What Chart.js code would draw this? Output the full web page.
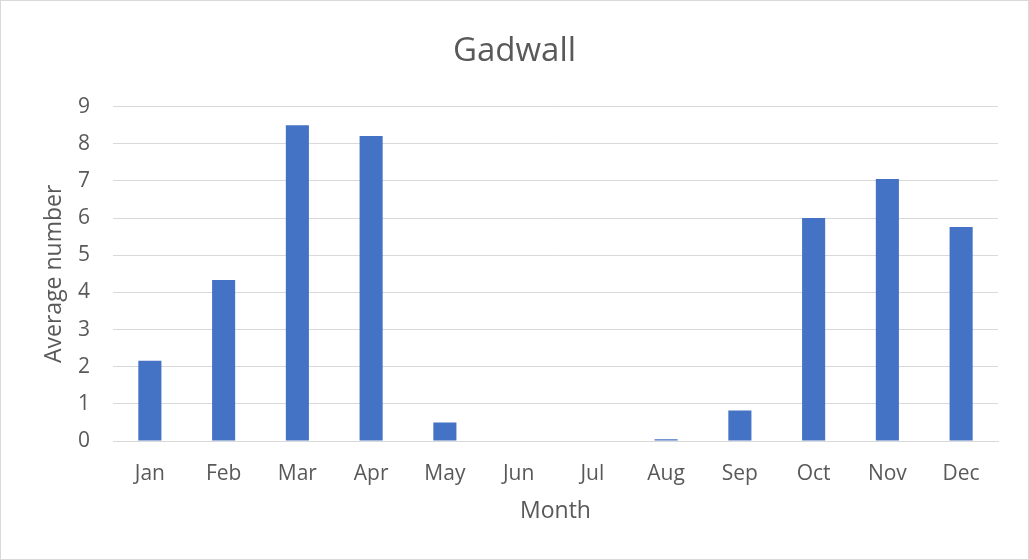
<!DOCTYPE html>
<html>
<head>
<meta charset="utf-8">
<script src="https://cdn.jsdelivr.net/npm/chart.js@4"></script>
<style>
  html, body { margin: 0; padding: 0; background: #fff; }
  #wrap { width: 1029px; height: 560px; }
</style>
</head>
<body>
<div id="wrap"><canvas id="chart" width="1029" height="560"></canvas></div>
<script>
const months = ['Jan', 'Feb', 'Mar', 'Apr', 'May', 'Jun', 'Jul', 'Aug', 'Sep', 'Oct', 'Nov', 'Dec'];
const avgNumber = [2.16, 4.33, 8.5, 8.21, 0.5, 0, 0, 0.05, 0.82, 6.0, 7.05, 5.76];
const yTicks = [0, 1, 2, 3, 4, 5, 6, 7, 8, 9];

const textColor = '#595959';
const gridColor = '#D9D9D9';
const fontFamily = '"Open Sans", "Liberation Sans", sans-serif';

// light frame round the whole chart, like the Excel chart border
const frame = {
  id: 'frame',
  beforeDraw(chart) {
    const c = chart.ctx;
    c.save();
    c.fillStyle = '#fff';
    c.fillRect(0, 0, chart.width, chart.height);
    c.strokeStyle = gridColor;
    c.lineWidth = 1;
    c.strokeRect(0.5, 0.5, chart.width - 1, chart.height - 1);
    c.restore();
  }
};

const ctx = document.getElementById('chart').getContext('2d');
new Chart(ctx, {
  type: 'bar',
  data: {
    labels: months,
    datasets: [{
      label: 'Average number',
      data: avgNumber,
      backgroundColor: '#4472C4',
      borderWidth: 0,
      categoryPercentage: 1,
      barPercentage: 0.313
    }]
  },
  options: {
    responsive: false,
    animation: false,
    // equal side padding keeps the title centred on the canvas
    layout: { padding: { top: 0, left: 31, right: 31, bottom: 0 } },
    plugins: {
      legend: { display: false },
      tooltip: { enabled: false },
      title: {
        display: true,
        text: 'Gadwall',
        color: textColor,
        font: { family: fontFamily, size: 33, weight: 'normal' },
        padding: { top: 32, bottom: 35 }
      }
    },
    scales: {
      x: {
        grid: { display: false },
        border: { display: true, color: gridColor, width: 1 },
        ticks: {
          color: textColor,
          font: { family: fontFamily, size: 21 },
          padding: 12,
          maxRotation: 0
        },
        title: {
          display: true,
          text: 'Month',
          color: textColor,
          font: { family: fontFamily, size: 23 },
          padding: { top: 0, bottom: 35 }
        },
        afterFit(scale) { scale.height = 119; }
      },
      y: {
        min: 0,
        max: 9,
        afterBuildTicks(scale) { scale.ticks = yTicks.map(v => ({ value: v })); },
        grid: { color: gridColor, lineWidth: 1, drawTicks: false },
        border: { display: false },
        ticks: {
          color: textColor,
          font: { family: fontFamily, size: 21 },
          padding: 23
        },
        title: {
          display: true,
          text: 'Average number',
          color: textColor,
          font: { family: fontFamily, size: 23 },
          padding: { top: 10, bottom: 0 }
        },
        afterFit(scale) { scale.width = 82; }
      }
    }
  },
  plugins: [frame]
});
</script>
</body>
</html>
